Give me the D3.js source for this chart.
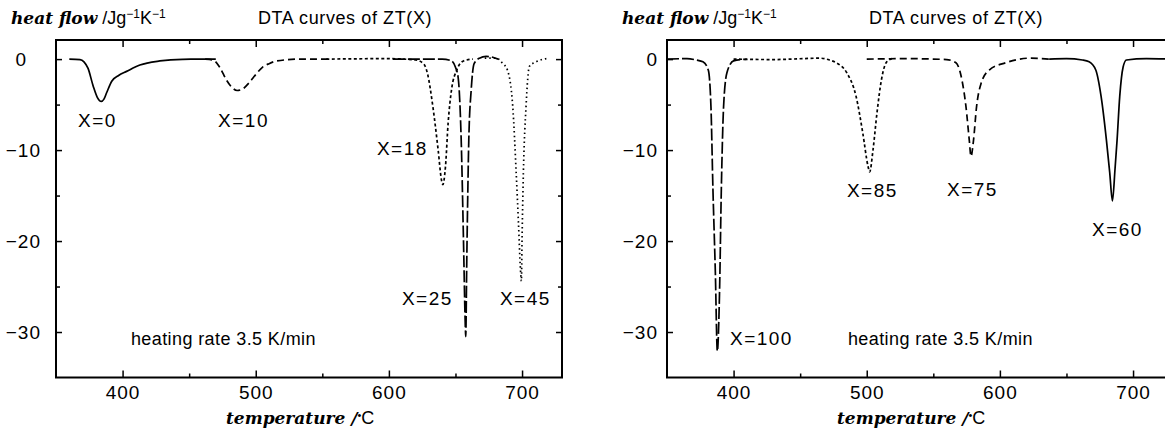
<!DOCTYPE html>
<html>
<head>
<meta charset="utf-8">
<script src="https://cdn.jsdelivr.net/npm/d3@7"></script>
<style>
  body { margin: 0; background: #fff; }
  svg { display: block; }
</style>
</head>
<body>
<svg id="chart" width="1165" height="430"></svg>
<script>
// DTA curves, each point is [temperature in °C, heat flow in J/(g K)]
var curveX0 = [[360,0],[368,-0.05],[371,-0.3],[374,-1.0],[378,-3.0],[381,-4.2],[384,-4.65],[386,-4.4],[388,-3.7],[392,-2.4],[397,-1.8],[403,-1.35],[413,-0.65],[428,-0.2],[445,-0.02],[470,0]];
var curveX10 = [[462,0],[468,-0.1],[473,-0.9],[478,-2.3],[482,-3.1],[486,-3.45],[490,-3.3],[495,-2.6],[500,-1.7],[505,-0.9],[510,-0.5],[516,-0.2],[533,0],[555,0]];
var curveX18 = [[553,0],[600,0.05],[620,-0.1],[626,-0.5],[629,-1.6],[633,-5.2],[637,-10],[639.5,-13.3],[640.5,-13.8],[642.5,-11.8],[644.5,-7.0],[647,-3.4],[651,-1.2],[656,-0.2],[663,0]];
var curveX25 = [[603,0],[640,0],[647,-0.2],[650,-0.9],[652,-2.0],[654.3,-8.9],[656,-19.8],[657.3,-28.9],[657.7,-30.5],[658.5,-22],[659,-17],[660,-8.9],[661.8,-3.4],[664,-0.5],[668,0.1],[673,0.3],[678,0.2],[682,0]];
var curveX45 = [[672,0.1],[681,0.1],[685,-0.4],[689,-1.2],[693,-5.2],[695.6,-12.5],[697.3,-18],[698.8,-23.1],[699.5,-24.4],[700,-19.8],[701,-12.5],[703,-5.2],[705.5,-0.8],[710.5,-0.3],[720.5,0.1]];

var curveX100 = [[350,0],[365,0.05],[372,-0.1],[377,-0.3],[381,-1.2],[383,-5.2],[384.5,-14.3],[386.3,-23.4],[387.8,-32.1],[389.5,-25.3],[390.8,-14.3],[392.5,-5.2],[395,-1.5],[400,-0.2],[410,0]];
var curveX85 = [[400,0],[430,-0.05],[465,0.1],[472,-0.1],[477,-0.4],[485,-1.5],[492,-4.1],[497,-8.1],[501,-11.8],[502.2,-12.4],[504.7,-10],[507.7,-5.9],[511,-2.3],[515,-0.3],[520,0.1]];
var curveX75 = [[500,0],[530,0.05],[560,-0.05],[567,-0.4],[571.5,-2.3],[574.5,-5.2],[577,-8.9],[578.3,-10.7],[580.2,-8.9],[582.5,-5.2],[585.8,-2.7],[592,-1.2],[604.5,-0.4],[622,0.1],[637,0]];
var curveX60 = [[637,0],[650,0.05],[662,-0.1],[667,-0.3],[672,-1.2],[676,-4.1],[680,-8.9],[682.5,-12.5],[684.5,-15.6],[686.5,-12],[688,-8.9],[690,-4.1],[692.5,-0.9],[695,-0.1],[710,0.05],[730,0]];

var xMajorTicks = [400, 500, 600, 700];
var xMinorTicks = [450, 550, 650];
var yMajorTicks = [0, -10, -20, -30];
var yMinorTicks = [-5, -15, -25];

// curve labels, placed in data units [temperature, heat flow]
var leftLabels = [["X=0", 366.5, -7.5], ["X=10", 471.7, -7.5], ["X=18", 591, -10.5], ["X=25", 609.8, -27.0], ["X=45", 683.4, -27.0]];
var rightLabels = [["X=100", 397.3, -31.4], ["X=85", 485.1, -15.15], ["X=75", 560.3, -15.05], ["X=60", 669.2, -19.5]];

var sansFont = "'Liberation Sans', Arial, sans-serif";
var serifFont = "'DejaVu Serif', serif";

var svg = d3.select("#chart");

var panels = [
    { left: 56, zeroLabelX: 27, labelPad: 15, rateAt: [406.3, -31.4],
      series: [[curveX0, null], [curveX10, "7,4"], [curveX18, "3,2.5"], [curveX25, "12,3"], [curveX45, "1.5,3"]],
      labels: leftLabels },
    { left: 667, zeroLabelX: null, labelPad: 9, rateAt: [485.9, -31.4],
      series: [[curveX100, "12,3"], [curveX85, "3,2.5"], [curveX75, "7,4"], [curveX60, null]],
      labels: rightLabels }
];

panels.forEach(function(p) {
    var xScale = d3.scaleLinear().domain([350, 730]).range([p.left, p.left + 506]);
    var yScale = d3.scaleLinear().domain([-35, 2.1]).range([377.5, 40]);
    var x0 = xScale.range()[0], x1 = xScale.range()[1];
    var y0 = yScale.range()[1], y1 = yScale.range()[0];

    var g = svg.append("g");

    // curves
    var line = d3.line()
        .x(d => xScale(d[0]))
        .y(d => yScale(d[1]))
        .curve(d3.curveMonotoneX);

    p.series.forEach(function(s) {
        g.append("path")
            .datum(s[0])
            .attr("d", line)
            .attr("fill", "none")
            .attr("stroke", "#000")
            .attr("stroke-width", 1.7)
            .attr("stroke-dasharray", s[1]);
    });

    // inward ticks on all four sides
    function addAxis(axis, transform, showText) {
        var a = g.append("g").attr("transform", transform).call(axis);
        a.select(".domain").remove();
        a.selectAll("line").attr("stroke", "#000").attr("stroke-width", 1.5);
        if (!showText) a.selectAll("text").remove();
        return a;
    }

    var bottom = addAxis(d3.axisBottom(xScale).tickValues(xMajorTicks).tickSize(-7).tickPadding(8),
        `translate(0,${y1})`, true);
    bottom.selectAll("text")
        .style("font-family", sansFont)
        .style("font-size", "19px")
        .style("letter-spacing", "1px")
        .attr("fill", "#000");
    addAxis(d3.axisBottom(xScale).tickValues(xMinorTicks).tickSize(-4), `translate(0,${y1})`, false);
    addAxis(d3.axisTop(xScale).tickValues(xMajorTicks).tickSize(-7), `translate(0,${y0})`, false);
    addAxis(d3.axisTop(xScale).tickValues(xMinorTicks).tickSize(-4), `translate(0,${y0})`, false);

    var leftAxis = addAxis(d3.axisLeft(yScale).tickValues(yMajorTicks).tickSize(-6).tickPadding(p.labelPad),
        `translate(${x0},0)`, true);
    leftAxis.selectAll("text")
        .style("font-family", sansFont)
        .style("font-size", "19px")
        .style("letter-spacing", "1px")
        .attr("fill", "#000");
    if (p.zeroLabelX !== null) {
        leftAxis.selectAll(".tick").filter(d => d === 0).select("text")
            .attr("x", p.zeroLabelX - x0);
    }
    addAxis(d3.axisLeft(yScale).tickValues(yMinorTicks).tickSize(-4), `translate(${x0},0)`, false);
    addAxis(d3.axisRight(yScale).tickValues(yMajorTicks).tickSize(-6), `translate(${x1},0)`, false);
    addAxis(d3.axisRight(yScale).tickValues(yMinorTicks).tickSize(-4), `translate(${x1},0)`, false);

    // frame
    g.append("rect")
        .attr("x", x0).attr("y", y0)
        .attr("width", x1 - x0).attr("height", y1 - y0)
        .attr("fill", "none")
        .attr("stroke", "#000")
        .attr("stroke-width", 2);

    // curve labels
    g.selectAll(".curve-label")
        .data(p.labels)
        .enter().append("text")
        .attr("class", "curve-label")
        .attr("x", d => xScale(d[1]))
        .attr("y", d => yScale(d[2]))
        .style("font-family", sansFont)
        .style("font-size", "19px")
        .style("letter-spacing", "1.5px")
        .text(d => d[0]);

    g.append("text")
        .attr("x", xScale(p.rateAt[0]))
        .attr("y", yScale(p.rateAt[1]))
        .style("font-family", sansFont)
        .style("font-size", "18px")
        .style("letter-spacing", "0.4px")
        .text("heating rate 3.5 K/min");

    // y title
    var yTitle = g.append("text")
        .attr("x", x0 - 45)
        .attr("y", 24)
        .style("font-family", sansFont)
        .style("font-size", "18px");
    yTitle.append("tspan")
        .style("font-family", serifFont)
        .style("font-weight", "bold")
        .style("font-style", "italic")
        .style("font-size", "17px")
        .text("heat flow");
    yTitle.append("tspan").text(" /Jg");
    yTitle.append("tspan").attr("dy", -6).style("font-size", "12px").text("−1");
    yTitle.append("tspan").attr("dy", 6).text("K");
    yTitle.append("tspan").attr("dy", -6).style("font-size", "12px").text("−1");

    // chart title
    g.append("text")
        .attr("x", x0 + 202)
        .attr("y", 24)
        .style("font-family", sansFont)
        .style("font-size", "18px")
        .style("letter-spacing", "0.6px")
        .text("DTA curves of ZT(X)");

    // x title
    var xTitle = g.append("text")
        .attr("x", x0 + 170)
        .attr("y", 424)
        .style("font-family", sansFont)
        .style("font-size", "18px");
    xTitle.append("tspan")
        .style("font-family", serifFont)
        .style("font-weight", "bold")
        .style("font-style", "italic")
        .style("font-size", "17px")
        .text("temperature /");
    xTitle.append("tspan").attr("dy", -5).style("font-size", "11px").text("•");
    xTitle.append("tspan").attr("dy", 5).text("C");
});
</script>
</body>
</html>
